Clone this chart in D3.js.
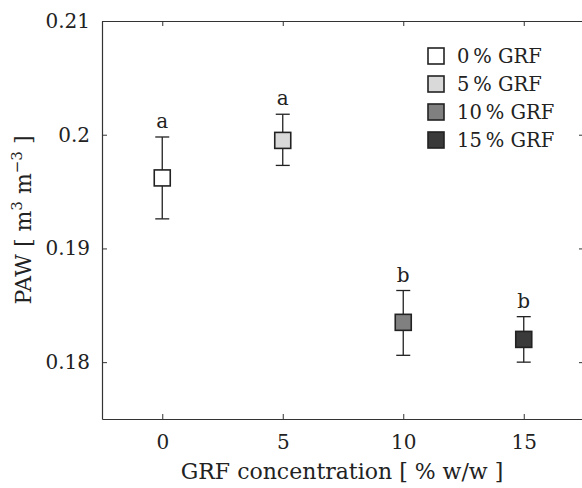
<!DOCTYPE html>
<html><head><meta charset="utf-8">
<script src="https://cdn.jsdelivr.net/npm/d3@7"></script>
<style>body{margin:0;background:#fff}svg{display:block}text{font-family:"DejaVu Serif",serif;fill:#222}</style>
</head><body>
<svg id="c" width="582" height="488"></svg>
<script>
const concentrations = [0, 5, 10, 15];
const pawMean = [0.1962, 0.1995, 0.1835, 0.1820];
const pawLow = [0.1926, 0.1973, 0.1806, 0.1800];
const pawHigh = [0.1998, 0.2018, 0.1863, 0.1840];
const groupLetters = ["a", "a", "b", "b"];
const seriesNames = ["0\u2009% GRF", "5\u2009% GRF", "10\u2009% GRF", "15\u2009% GRF"];
const fills = ["#ffffff", "#d9d9d9", "#808080", "#3a3a3a"];
const xTicks = [0, 5, 10, 15];
const yTicks = [0.18, 0.19, 0.2, 0.21];

const FONT = '"DejaVu Serif",serif';
const svg = d3.select("#c");
const L = 102, R = 584, T = 21, B = 419;
const x = d3.scaleLinear().domain([-2.5, 17.5]).range([L, R]);
const y = d3.scaleLinear().domain([0.175, 0.21]).range([B, T]);
const axCol = "#333";

const bx = svg.append("g").attr("transform", `translate(0,${B})`)
  .call(d3.axisBottom(x).tickValues(xTicks).tickSizeInner(-5).tickSizeOuter(0).tickPadding(16).tickFormat(d3.format("d")));
const tx = svg.append("g").attr("transform", `translate(0,${T})`)
  .call(d3.axisTop(x).tickValues(xTicks).tickSizeInner(-5).tickSizeOuter(0).tickFormat(""));
const ly = svg.append("g").attr("transform", `translate(${L},0)`)
  .call(d3.axisLeft(y).tickValues(yTicks).tickSizeInner(-5).tickSizeOuter(0).tickPadding(12).tickFormat(d => d === 0.2 ? "0.2" : d3.format(".2f")(d)));
const ry = svg.append("g").attr("transform", `translate(${R},0)`)
  .call(d3.axisRight(y).tickValues(yTicks).tickSizeInner(-5).tickSizeOuter(0).tickFormat(""));
[bx, tx, ly, ry].forEach(g => {
  g.attr("font-family", FONT);
  g.select(".domain").attr("stroke", axCol).attr("stroke-width", 1.2);
  g.selectAll(".tick line").attr("stroke", axCol).attr("stroke-width", 1);
  g.selectAll(".tick text").attr("font-size", 20).attr("fill", "#222");
});

const cap = 7;
const pts = svg.append("g");
concentrations.forEach((c, i) => {
  const cx = x(c);
  pts.append("line").attr("x1", cx).attr("x2", cx).attr("y1", y(pawLow[i])).attr("y2", y(pawHigh[i])).attr("stroke", "#222").attr("stroke-width", 1.3);
  [pawLow[i], pawHigh[i]].forEach(v => pts.append("line").attr("x1", cx - cap).attr("x2", cx + cap).attr("y1", y(v)).attr("y2", y(v)).attr("stroke", "#222").attr("stroke-width", 1.3));
  pts.append("rect").attr("x", cx - 8).attr("y", y(pawMean[i]) - 8).attr("width", 16).attr("height", 16)
    .attr("fill", fills[i]).attr("stroke", "#222").attr("stroke-width", 1.6);
  pts.append("text").attr("x", cx).attr("y", y(pawHigh[i]) - 9).attr("text-anchor", "middle").attr("font-size", 20).text(groupLetters[i]);
});

const lg = svg.append("g");
seriesNames.forEach((n, i) => {
  const cy = 56 + i * 28;
  lg.append("rect").attr("x", 428).attr("y", cy - 8).attr("width", 16).attr("height", 16).attr("fill", fills[i]).attr("stroke", "#222").attr("stroke-width", 1.6);
  lg.append("text").attr("x", 457).attr("y", cy + 7).attr("font-size", 19.5).text(n);
});

svg.append("text").attr("x", 342).attr("y", 479).attr("text-anchor", "middle").attr("font-size", 22)
  .text("GRF concentration [ % w/w ]");
const yl = svg.append("text").attr("transform", `translate(31,${(T + B) / 2}) rotate(-90)`).attr("text-anchor", "middle").attr("font-size", 22);
yl.append("tspan").text("PAW [ m");
yl.append("tspan").attr("dy", -9).attr("font-size", 15).text("3");
yl.append("tspan").attr("dy", 9).text(" m");
yl.append("tspan").attr("dy", -9).attr("font-size", 15).text("\u22123");
yl.append("tspan").attr("dy", 9).text(" ]");
</script>
</body></html>
